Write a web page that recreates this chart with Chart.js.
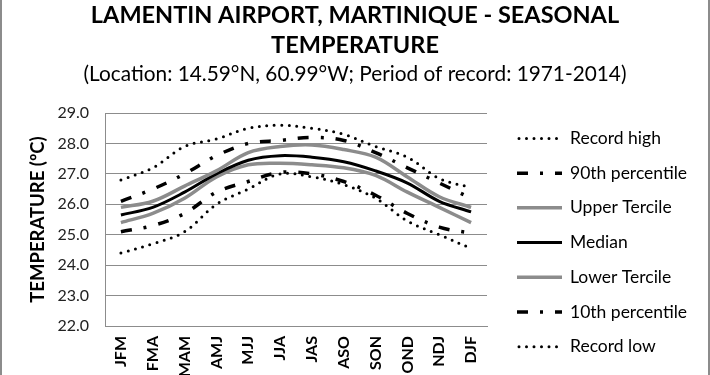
<!DOCTYPE html>
<html>
<head>
<meta charset="utf-8">
<script src="https://cdn.jsdelivr.net/npm/chart.js@4.4.1/dist/chart.umd.min.js"></script>
<style>
  html,body{margin:0;padding:0;background:#fff;overflow:hidden;}
  #wrap{position:absolute;left:0;top:0;width:706px;height:400px;border-left:2px solid #8c8c8c;border-right:2px solid #8c8c8c;}
</style>
</head>
<body>
<div id="wrap"><canvas id="miGrafico" width="706" height="400"></canvas></div>
<script>
// seasons (3-month running)
const temporadas=['JFM','FMA','MAM','AMJ','MJJ','JJA','JAS','ASO','SON','OND','NDJ','DJF'];

const recordHigh =[26.8,27.2,27.9,28.15,28.5,28.6,28.5,28.3,27.9,27.55,26.85,26.55];
const p90        =[26.1,26.5,27.0,27.6,28.0,28.1,28.2,28.1,27.7,27.2,26.7,26.2];
const upperTerc  =[25.9,26.1,26.6,27.1,27.7,27.9,27.95,27.8,27.55,26.9,26.25,25.9];
const median     =[25.65,25.9,26.4,27.0,27.45,27.6,27.55,27.4,27.1,26.7,26.1,25.75];
const lowerTerc  =[25.4,25.7,26.2,26.9,27.3,27.35,27.3,27.2,26.95,26.4,25.9,25.4];
const p10        =[25.1,25.3,25.7,26.4,26.75,27.05,27.0,26.75,26.3,25.7,25.25,25.05];
const recordLow  =[24.4,24.7,25.1,26.0,26.5,27.0,26.9,26.65,26.2,25.45,25.0,24.55];

const yTicks=[22,23,24,25,26,27,28,29];

const FUENTE='Lato, "Open Sans", sans-serif';
const punteado=[0,7.5];
const rayaPunto=[11,12,3,12];
const ANCHO_LEYENDA=221;

function serie(label,data,color,width,dash,cap){
  return {label:label,data:data,borderColor:color,backgroundColor:color,borderWidth:width,
    borderDash:dash,borderCapStyle:cap,pointRadius:0,pointHoverRadius:0,fill:false,tension:0.35};
}

// legend drawn by hand so the dash patterns show up like in the original
const leyenda={
  id:'leyenda',
  beforeInit(chart){
    // empty box on the right that keeps room for the legend (titles stay centred on the whole chart)
    Chart.layouts.addBox(chart,{
      position:'right',options:{},weight:0,fullSize:false,
      left:0,top:0,right:0,bottom:0,width:0,height:0,
      update(w,h){this.width=ANCHO_LEYENDA;this.height=h;},
      isHorizontal(){return false;},
      draw(){}
    });
  },
  afterDraw(chart){
    const c=chart.ctx, ca=chart.chartArea;
    const x0=ca.right+30, largo=45, paso=34.7;
    const n=chart.data.datasets.length;
    const yc=(ca.top+ca.bottom)/2+23;
    c.save();
    chart.data.datasets.forEach((ds,i)=>{
      const y=yc+(i-(n-1)/2)*paso;
      c.beginPath();
      c.strokeStyle=ds.borderColor;
      c.lineWidth=ds.borderWidth;
      c.lineCap=ds.borderCapStyle;
      c.setLineDash(ds.borderDash);
      c.moveTo(x0+(ds.borderCapStyle==='round'?2:0),y);
      c.lineTo(x0+largo,y);
      c.stroke();
      c.setLineDash([]);
      c.fillStyle='#000';
      c.font='17.5px '+FUENTE;
      c.textBaseline='middle';
      c.textAlign='left';
      c.fillText(ds.label,x0+largo+8,y);
    });
    c.restore();
  }
};

const ctx=document.getElementById('miGrafico').getContext('2d');
const miGrafico=new Chart(ctx,{
  type:'line',
  data:{
    labels:temporadas,
    datasets:[
      serie('Record high',recordHigh,'#000',3,punteado,'round'),
      serie('90th percentile',p90,'#000',3.5,rayaPunto,'butt'),
      serie('Upper Tercile',upperTerc,'#8c8c8c',3.5,[],'butt'),
      serie('Median',median,'#000',3,[],'butt'),
      serie('Lower Tercile',lowerTerc,'#8c8c8c',3.5,[],'butt'),
      serie('10th percentile',p10,'#000',3.5,rayaPunto,'butt'),
      serie('Record low',recordLow,'#000',3,punteado,'round')
    ]
  },
  plugins:[leyenda],
  options:{
    responsive:false,
    animation:false,
    layout:{padding:0},
    plugins:{
      title:{display:true,fullSize:true,
        text:['LAMENTIN AIRPORT, MARTINIQUE - SEASONAL','TEMPERATURE'],
        color:'#000',font:{family:FUENTE,size:23.5,weight:'bold',lineHeight:1.3},padding:{top:0,bottom:1}},
      subtitle:{display:true,fullSize:true,
        text:'(Location: 14.59°N, 60.99°W; Period of record: 1971-2014)',
        color:'#000',font:{family:FUENTE,size:20.8},padding:{top:0,bottom:26}},
      legend:{display:false},
      tooltip:{enabled:false}
    },
    scales:{
      x:{offset:true,
        afterFit:(s)=>{s.height=74;},
        grid:{display:false,drawTicks:false},
        border:{display:true,color:'#8c8c8c',width:1},
        ticks:{color:'#000',maxRotation:90,minRotation:90,padding:10,autoSkip:false,font:{family:FUENTE,size:16,weight:'bold'}}},
      y:{min:22,max:29,
        afterBuildTicks:(s)=>{s.ticks=yTicks.map(v=>({value:v}));},
        afterFit:(s)=>{s.width=103;},
        grid:{color:'#8c8c8c',drawTicks:false},
        border:{display:true,color:'#8c8c8c',width:1},
        title:{display:true,text:'TEMPERATURE (ºC)',color:'#000',font:{family:FUENTE,size:18.5,weight:'bold'},padding:{top:25,bottom:0}},
        ticks:{color:'#222',padding:16,font:{family:FUENTE,size:16},callback:(v)=>Number(v).toFixed(1)}}
    }
  }
});
</script>
</body>
</html>
